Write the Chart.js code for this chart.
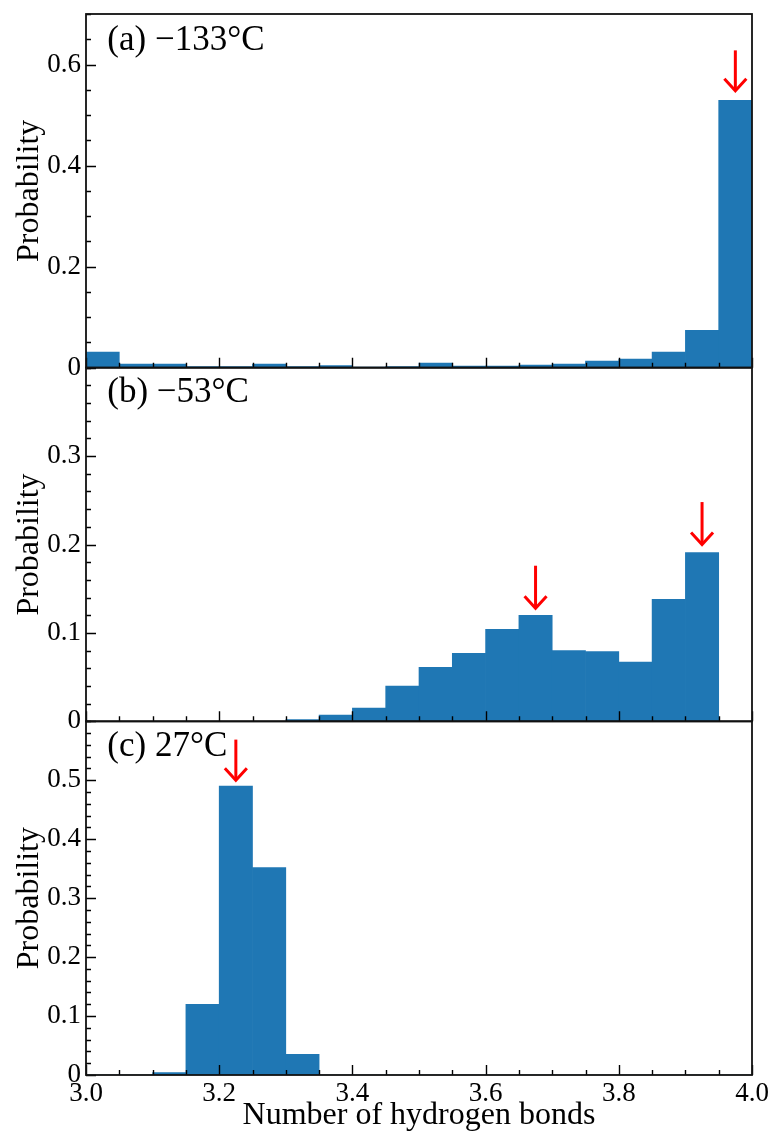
<!DOCTYPE html>
<html>
<head>
<meta charset="utf-8">
<script src="https://cdn.jsdelivr.net/npm/chart.js@4.4.1/dist/chart.umd.min.js"></script>
<style>
html,body{margin:0;padding:0;background:#fff;}
#wrap{width:774px;height:1139px;position:relative;}
canvas{display:block;}
</style>
</head>
<body>
<div id="wrap"><canvas id="c" width="774" height="1139"></canvas></div>
<script>
// ---- data ----
const binCenters = [3.025,3.075,3.125,3.175,3.225,3.275,3.325,3.375,3.425,3.475,
                    3.525,3.575,3.625,3.675,3.725,3.775,3.825,3.875,3.925,3.975];
const probA = [0.031,0.007,0.007,0.002,0.002,0.007,0.002,0.004,0.001,0.002,
               0.009,0.003,0.003,0.005,0.007,0.013,0.017,0.031,0.074,0.529];
const probB = [0,0,0,0,0,0,0.002,0.007,0.015,0.040,
               0.061,0.077,0.104,0.120,0.080,0.079,0.067,0.138,0.191,0];
const probC = [0,0,0.004,0.120,0.490,0.352,0.035,0,0,0,
               0,0,0,0,0,0,0,0,0,0];
const xTicks = [3.0,3.2,3.4,3.6,3.8,4.0];
const yTicksA = [0,0.2,0.4,0.6];
const yTicksB = [0,0.1,0.2,0.3];
const yTicksC = [0,0.1,0.2,0.3,0.4,0.5];
const yMax = {yA:0.7, yB:0.4, yC:0.6};
const yMinorStep = {yA:0.05, yB:0.02, yC:0.02};
const xMinorStep = 0.05;
const panelLabels = {yA:'(a) \u2212133\u00B0C', yB:'(b) \u221253\u00B0C', yC:'(c) 27\u00B0C'};
// arrows: x position, tail value, tip value (data units)
const arrowsA = [{x:3.975, from:0.628, to:0.548}];
const arrowsB = [{x:3.675, from:0.176, to:0.128},{x:3.925, from:0.248, to:0.200}];
const arrowsC = [{x:3.225, from:0.569, to:0.500}];
const arrows = {yA:arrowsA, yB:arrowsB, yC:arrowsC};
const yTicks = {yA:yTicksA, yB:yTicksB, yC:yTicksC};

const FONT = '"Liberation Serif", "Times New Roman", serif';
const BAR = '#1f77b4';
const labelDy = {yA:27, yB:25, yC:25};

function ds(vals, axis){
  return {
    data: binCenters.map((x,i)=>({x:x, y:vals[i]})),
    yAxisID: axis,
    backgroundColor: BAR,
    borderWidth: 0,
    barPercentage: 1.0,
    categoryPercentage: 1.0,
    grouped: false
  };
}

function yScale(id){
  return {
    type:'linear', position:'left', stack:'panels', stackWeight:1,
    min:0, max:yMax[id],
    grid:{display:false, drawTicks:false},
    border:{display:false},
    afterBuildTicks:(s)=>{ s.ticks = yTicks[id].map(v=>({value:v})); },
    afterFit:(s)=>{ s.width = 86; s.paddingTop = 0; s.paddingBottom = 0; },
    ticks:{
      color:'#000', padding:5,
      font:{family:FONT, size:27},
      callback:(v)=> v===0 ? '0' : Number(v).toFixed(1)
    },
    title:{display:true, text:'Probability', color:'#000',
           font:{family:FONT, size:32}, padding:{top:10, bottom:0}}
  };
}

const deco = {
  id:'deco',
  afterDatasetsDraw(chart){
    const ctx = chart.ctx, xs = chart.scales.x, ca = chart.chartArea;
    ['yA','yB','yC'].forEach(id=>{
      const ys = chart.scales[id];
      const top = ys.top, bot = ys.bottom;
      ctx.save();
      ctx.strokeStyle = '#000';
      ctx.lineWidth = 1.4;
      ctx.beginPath();
      const maj = yTicks[id];
      const st = yMinorStep[id];
      for(let k=0; k*st <= yMax[id]+1e-9; k++){
        const v = k*st;
        const isMaj = maj.some(m=>Math.abs(m-v)<1e-9);
        const y = Math.round(ys.getPixelForValue(v))+0.5;
        ctx.moveTo(ca.left, y); ctx.lineTo(ca.left + (isMaj?10:5), y);
      }
      for(let k=0; 3 + k*xMinorStep <= 4+1e-9; k++){
        const v = 3 + k*xMinorStep;
        const isMaj = xTicks.some(m=>Math.abs(m-v)<1e-9);
        const x = Math.round(xs.getPixelForValue(v))+0.5;
        ctx.moveTo(x, bot); ctx.lineTo(x, bot - (isMaj?10:5));
      }
      ctx.stroke();
      ctx.lineWidth = 1.8;
      ctx.strokeStyle = '#111';
      ctx.strokeRect(ca.left, top, ca.right-ca.left, bot-top);
      ctx.fillStyle = '#000';
      ctx.font = '35px ' + FONT;
      ctx.textAlign = 'left';
      ctx.textBaseline = 'middle';
      ctx.fillText(panelLabels[id], xs.getPixelForValue(3.032), top + labelDy[id]);
      ctx.strokeStyle = '#ff0000';
      ctx.lineWidth = 3;
      ctx.lineCap = 'butt';
      ctx.lineJoin = 'miter';
      arrows[id].forEach(a=>{
        const x = xs.getPixelForValue(a.x);
        const y0 = ys.getPixelForValue(a.from);
        const y1 = ys.getPixelForValue(a.to);
        ctx.beginPath();
        ctx.moveTo(x, y0); ctx.lineTo(x, y1 - 1);
        ctx.stroke();
        ctx.beginPath();
        ctx.moveTo(x - 11, y1 - 12); ctx.lineTo(x, y1); ctx.lineTo(x + 11, y1 - 12);
        ctx.stroke();
      });
      ctx.restore();
    });
  }
};

new Chart(document.getElementById('c'), {
  type:'bar',
  data:{ datasets:[ ds(probC,'yC'), ds(probB,'yB'), ds(probA,'yA') ] },
  options:{
    responsive:false, animation:false,
    layout:{padding:{top:14, right:22, left:0, bottom:0}},
    plugins:{legend:{display:false}, tooltip:{enabled:false}},
    scales:{
      x:{
        type:'linear', position:'bottom', min:3, max:4, offset:false,
        grid:{display:false, drawTicks:false, offset:false},
        border:{display:false},
        afterBuildTicks:(s)=>{ s.ticks = xTicks.map(v=>({value:v})); },
        afterFit:(s)=>{ s.height = 64; s.paddingLeft = 0; s.paddingRight = 0; },
        ticks:{color:'#000', padding:3, maxRotation:0,
               font:{family:FONT, size:27},
               callback:(v)=>Number(v).toFixed(1)},
        title:{display:true, text:'Number of hydrogen bonds', color:'#000',
               font:{family:FONT, size:32}, padding:{top:0, bottom:4}}
      },
      yC: yScale('yC'),
      yB: yScale('yB'),
      yA: yScale('yA')
    }
  },
  plugins:[deco]
});
</script>
</body>
</html>
